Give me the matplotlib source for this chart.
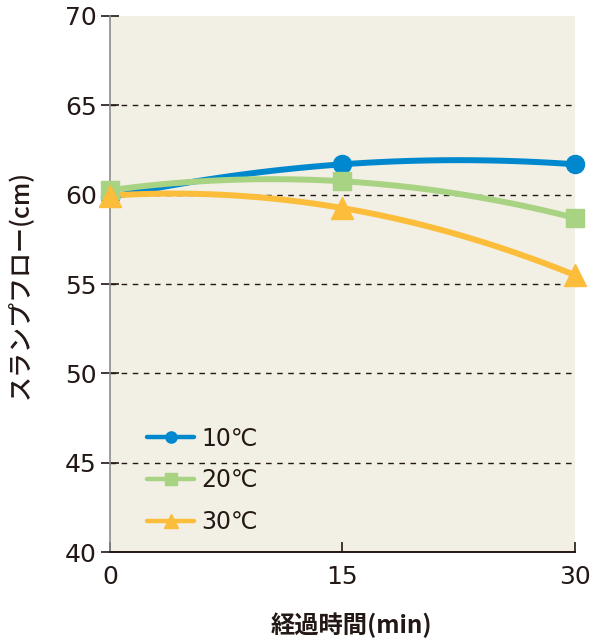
import numpy as np
import matplotlib.pyplot as plt
from matplotlib.lines import Line2D

plt.rcParams['font.family'] = ['Noto Sans CJK JP', 'DejaVu Sans']

# data
minutes = [0, 15, 30]
flow_10 = [59.85, 61.7, 61.7]
flow_20 = [60.25, 60.75, 58.7]
flow_30 = [59.95, 59.25, 55.5]
labels = ['10℃', '20℃', '30℃']

colors = ['#0088ce', '#a8d383', '#fbbd3a']
markers = ['o', 's', '^']
msizes = [13, 13, 16]
text_color = '#231815'


def main():
    fig = plt.figure(figsize=(5.95, 6.39), dpi=100)
    ax = fig.add_axes([0.185, 0.136, 0.781, 0.839])
    ax.set_facecolor('#f2efe4')

    # dashed reference lines
    for y in [45, 50, 55, 60, 65]:
        ax.axhline(y, color='#231815', lw=1, ls=(0, (4, 4)), zorder=1)

    xs = np.linspace(0, 30, 100)
    handles = []
    for vals, c, m, ms, lab in zip([flow_10, flow_20, flow_30], colors, markers, msizes, labels):
        # smooth the line through the three points
        coef = np.polyfit(minutes, vals, 2)
        ax.plot(xs, np.polyval(coef, xs), color=c, lw=4.3, solid_capstyle='round', zorder=3)
        ax.plot(minutes, vals, ls='none', marker=m, ms=ms, color=c, mec=c, zorder=4, clip_on=False)
        handles.append(Line2D([], [], color=c, lw=3.2, marker=m, ms=ms * 0.62,
                              solid_capstyle='round', label=lab))

    ax.set_xlim(0, 30)
    ax.set_ylim(40, 70)
    ax.set_xticks([0, 15, 30])
    ax.set_yticks([40, 45, 50, 55, 60, 65, 70])

    for s in ['top', 'right']:
        ax.spines[s].set_visible(False)
    ax.spines['left'].set_color('#8c8c8c')
    ax.spines['bottom'].set_color(text_color)
    ax.spines['left'].set_linewidth(1.2)
    ax.spines['bottom'].set_linewidth(1.4)

    ax.tick_params(axis='y', direction='inout', length=13, width=1.2, color=text_color,
                   labelsize=18, labelcolor=text_color, pad=3)
    ax.tick_params(axis='x', direction='in', length=7, width=1.2, color=text_color,
                   labelsize=18, labelcolor=text_color, pad=9)
    for t in ax.get_xticklabels() + ax.get_yticklabels():
        t.set_family('DejaVu Sans')

    leg = ax.legend(handles=handles, loc='lower left', bbox_to_anchor=(0.034, -0.006),
                    frameon=False, fontsize=17, handlelength=2.0, handletextpad=0.3,
                    labelspacing=0.75, labelcolor=text_color)
    for t in leg.get_texts():
        t.set_family('DejaVu Sans')

    fig.text(0.59, 0.022, '経過時間(min)', ha='center', va='center', fontsize=17.5,
             fontweight='bold', color=text_color)
    fig.text(0.034, 0.555, 'スランプフロー(cm)', ha='center', va='center', fontsize=18,
             fontweight='medium', color=text_color, rotation=90)

    fig.savefig('out.png', dpi=100)


if __name__ == "__main__":
    main()
